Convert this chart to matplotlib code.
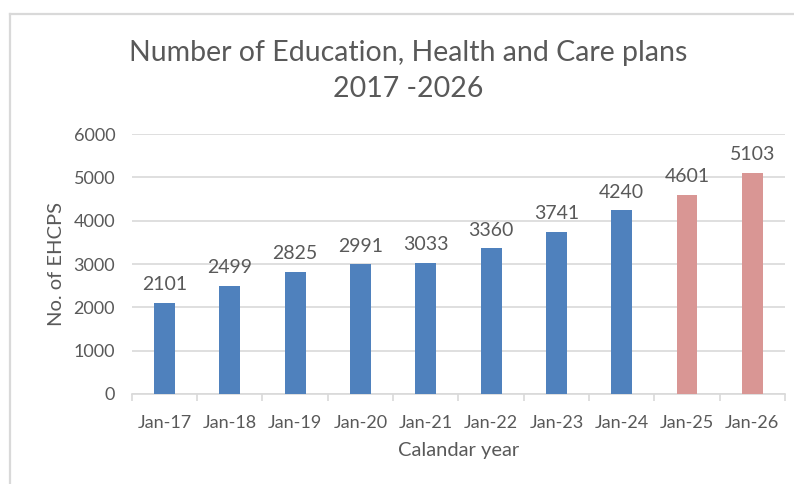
import numpy as np
import matplotlib
matplotlib.use('Agg')
import matplotlib.pyplot as plt
from matplotlib.lines import Line2D

# Data
years = ['Jan-17', 'Jan-18', 'Jan-19', 'Jan-20', 'Jan-21',
         'Jan-22', 'Jan-23', 'Jan-24', 'Jan-25', 'Jan-26']
plans = [2101, 2499, 2825, 2991, 3033, 3360, 3741, 4240, 4601, 5103]
forecast = [False, False, False, False, False, False, False, False, True, True]

BLUE = '#4F81BD'
PINK = '#D99694'
TEXT = '#595959'
GRID = '#D9D9D9'

plt.rcParams['font.family'] = ['Lato', 'DejaVu Sans']

fig = plt.figure(figsize=(7.94, 4.84), dpi=100)
ax = fig.add_axes([0.166, 0.186, 0.8227, 0.537])

# chart frame (runs off the right and bottom edges)
fig.add_artist(Line2D([0.0126, 0.0126], [0.0, 0.971], transform=fig.transFigure,
                      color=GRID, lw=1.6))
fig.add_artist(Line2D([0.0126, 1.0], [0.971, 0.971], transform=fig.transFigure,
                      color=GRID, lw=1.6))

x = np.arange(len(years))
colors = [PINK if f else BLUE for f in forecast]
bars = ax.bar(x, plans, width=0.32, color=colors, zorder=3)

for xi, v in zip(x, plans):
    ax.text(xi, v + 220, str(v), ha='center', va='bottom', fontsize=14, color=TEXT)

ax.set_xlim(-0.5, len(years) - 0.5)
ax.set_ylim(0, 6000)
ax.set_yticks(range(0, 6001, 1000))
ax.yaxis.grid(True, color=GRID, lw=1.2, zorder=0)
ax.set_xticks(x)
ax.set_xticklabels(years)
ax.set_xticks(np.arange(-0.5, len(years)), minor=True)

for s in ['top', 'right', 'left']:
    ax.spines[s].set_visible(False)
ax.spines['bottom'].set_color(GRID)
ax.spines['bottom'].set_linewidth(1.2)

ax.tick_params(axis='x', which='major', length=0, pad=15, labelsize=13, labelcolor=TEXT)
ax.tick_params(axis='x', which='minor', length=5, width=1.2, color=GRID)
ax.tick_params(axis='y', length=0, pad=12, labelsize=13, labelcolor=TEXT)

ax.set_ylabel('No. of EHCPS', fontsize=14.5, color=TEXT, labelpad=6)
ax.set_xlabel('Calandar year', fontsize=14.5, color=TEXT, labelpad=8)

fig.text(0.514, 0.853, 'Number of Education, Health and Care plans\n2017 -2026',
         ha='center', va='center', fontsize=20.5, color=TEXT, linespacing=1.5)

fig.savefig('out.png', dpi=100)
